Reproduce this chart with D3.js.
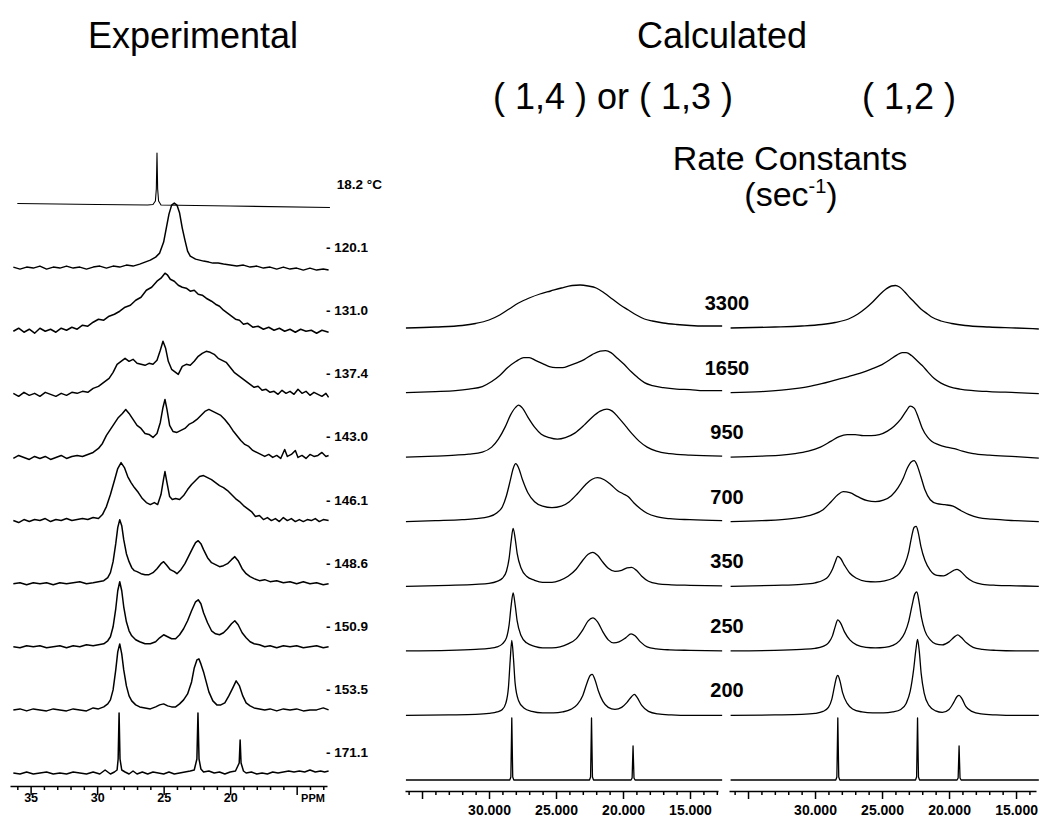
<!DOCTYPE html>
<html>
<head>
<meta charset="utf-8">
<script src="https://cdn.jsdelivr.net/npm/d3@7"></script>
<style>
body{margin:0;background:#fff;}
svg{display:block;}
.trace{fill:none;stroke:#000;stroke-linejoin:round;}
.axis path,.axis line{stroke:#000;stroke-width:1.5;}
.axis text{font-weight:bold;fill:#000;}
</style>
</head>
<body>
<svg id="chart" width="1039" height="817"></svg>
<script>

//****DATA
//temperatures of the experimental spectra, top to bottom
var temps = ["18.2 °C", "- 120.1", "- 131.0", "- 137.4", "- 143.0", "- 146.1", "- 148.6", "- 150.9", "- 153.5", "- 171.1"];

//experimental spectra, [ppm, intensity]
var exp182 = [[36.0,1.5],[30,0.5],[26.2,0],[25.8,0.5],[25.62,4],[25.55,16],[25.5,52],[25.45,16],[25.38,4],[25.2,0],[20,-1],[12.5,-2.5]];
var exp1201 = [[36.3,1],[35.8,-1],[35.3,1],[34.8,0],[34.3,2],[33.8,-1],[33.3,1],[32.8,0],[32.3,2],[31.8,0],[31.3,1],[30.8,-1],[30.3,1],[29.8,2],[29.3,0],[28.8,2],[28.3,1],[27.8,3],[27.3,2],[26.8,4],[26.4,6],[26.0,8],[25.6,11],[25.3,15],[25.0,26],[24.8,40],[24.6,54],[24.4,63],[24.2,65],[24.0,63],[23.8,55],[23.6,40],[23.4,28],[23.2,17],[23.0,12],[22.6,9],[22.3,8],[22.0,7],[21.6,6],[21.3,5],[20.9,5],[20.5,4],[20.0,3],[19.5,2],[19.0,3],[18.5,1],[18.0,2],[17.5,0],[17.0,1],[16.5,-1],[16.0,1],[15.5,-1],[15.0,0],[14.5,-2],[14.0,0],[13.5,-2],[13.0,-1],[12.6,-2]];
var exp1310 = [[36.3,0],[35.9,3],[35.5,-1],[35.1,2],[34.7,-2],[34.3,3],[33.9,0],[33.5,2],[33.1,-1],[32.7,3],[32.3,1],[31.9,4],[31.5,2],[31.1,6],[30.7,5],[30.3,9],[29.9,12],[29.5,11],[29.1,15],[28.7,17],[28.3,20],[27.9,24],[27.5,26],[27.1,31],[26.7,34],[26.3,41],[25.9,44],[25.5,50],[25.2,53],[24.9,58],[24.7,56],[24.5,52],[24.2,50],[23.9,46],[23.6,44],[23.3,43],[23.0,40],[22.7,41],[22.4,37],[22.1,36],[21.8,33],[21.4,30],[21.1,27],[20.8,25],[20.5,21],[20.2,18],[19.9,15],[19.6,12],[19.3,11],[19.0,7],[18.7,8],[18.3,4],[17.9,5],[17.5,2],[17.1,4],[16.7,1],[16.3,3],[15.9,0],[15.5,2],[15.1,-1],[14.7,2],[14.3,0],[13.9,1],[13.5,-2],[13.1,1],[12.6,-1]];
var exp1374 = [[36.3,1],[35.9,-2],[35.5,2],[35.1,-1],[34.7,1],[34.3,-2],[33.9,2],[33.5,0],[33.1,-2],[32.7,1],[32.3,-1],[31.9,2],[31.5,1],[31.1,3],[30.7,2],[30.3,6],[29.9,8],[29.5,12],[29.1,16],[28.8,22],[28.5,30],[28.2,33],[27.9,36],[27.6,33],[27.3,35],[27.0,31],[26.7,30],[26.4,29],[26.1,31],[25.8,30],[25.5,34],[25.25,44],[25.05,53],[24.85,46],[24.65,33],[24.4,25],[24.1,22],[23.9,20],[23.6,28],[23.3,30],[23.0,29],[22.7,33],[22.4,38],[22.1,41],[21.8,43],[21.5,42],[21.2,40],[20.9,36],[20.6,34],[20.3,32],[20.0,27],[19.7,22],[19.4,19],[19.1,16],[18.8,13],[18.5,10],[18.2,7],[17.9,8],[17.6,4],[17.3,5],[17.0,2],[16.7,3],[16.4,0],[16.1,4],[15.8,1],[15.5,3],[15.2,0],[14.9,5],[14.6,1],[14.3,3],[14.0,-1],[13.7,2],[13.4,0],[13.1,-2],[12.8,1],[12.6,-3]];
var exp1430 = [[36.3,-1],[35.9,2],[35.5,0],[35.1,-2],[34.7,1],[34.3,-1],[33.9,1],[33.5,-2],[33.1,0],[32.7,2],[32.3,-1],[31.9,1],[31.5,2],[31.1,1],[30.7,3],[30.3,5],[29.9,9],[29.6,14],[29.3,22],[29.0,28],[28.7,34],[28.4,40],[28.1,44],[27.85,48],[27.6,44],[27.3,38],[27.0,32],[26.7,29],[26.4,24],[26.1,23],[25.8,20],[25.5,24],[25.25,35],[25.05,50],[24.9,58],[24.75,48],[24.55,32],[24.3,26],[24.0,25],[23.7,27],[23.4,29],[23.1,33],[22.8,35],[22.5,38],[22.2,42],[21.9,46],[21.6,48],[21.3,46],[21.0,44],[20.7,42],[20.4,38],[20.1,33],[19.8,27],[19.5,22],[19.2,17],[18.9,13],[18.6,11],[18.3,7],[18.0,5],[17.7,3],[17.4,1],[17.1,3],[16.8,0],[16.5,2],[16.2,-1],[15.9,8],[15.7,1],[15.4,3],[15.1,7],[14.9,0],[14.6,2],[14.3,-1],[14.0,3],[13.7,1],[13.4,2],[13.1,5],[12.8,1],[12.6,2]];
var exp1461 = [[36.3,0],[35.9,-2],[35.5,1],[35.1,-1],[34.7,1],[34.3,0],[33.9,2],[33.5,-1],[33.1,1],[32.7,0],[32.3,2],[31.9,0],[31.5,1],[31.1,2],[30.7,1],[30.3,3],[29.9,2],[29.6,6],[29.3,14],[29.0,26],[28.7,40],[28.45,52],[28.2,58],[27.95,53],[27.7,44],[27.45,38],[27.2,33],[26.9,28],[26.6,22],[26.3,18],[26.0,16],[25.7,18],[25.45,16],[25.2,26],[25.0,42],[24.9,49],[24.75,38],[24.55,24],[24.35,21],[24.1,22],[23.8,21],[23.5,25],[23.2,31],[22.9,36],[22.6,40],[22.3,44],[22.0,45],[21.7,43],[21.4,41],[21.1,38],[20.8,35],[20.5,33],[20.2,30],[19.9,26],[19.6,22],[19.3,19],[19.0,15],[18.7,12],[18.4,9],[18.1,4],[17.8,5],[17.5,1],[17.2,3],[16.9,0],[16.6,2],[16.3,-1],[16.0,3],[15.7,0],[15.4,2],[15.1,-1],[14.8,1],[14.5,-1],[14.2,1],[13.9,0],[13.6,2],[13.3,-1],[13.0,1],[12.6,0]];
var exp1486 = [[36.3,0],[35.8,1],[35.3,-1],[34.8,1],[34.3,0],[33.8,1],[33.3,-1],[32.8,1],[32.3,0],[31.8,1],[31.3,2],[30.8,0],[30.3,1],[29.9,2],[29.5,3],[29.2,6],[29.0,11],[28.8,22],[28.6,40],[28.45,56],[28.3,64],[28.15,58],[28.0,44],[27.8,30],[27.6,22],[27.4,16],[27.2,13],[27.0,12],[26.7,10],[26.4,9],[26.1,9],[25.8,11],[25.5,15],[25.2,20],[25.0,22],[24.8,19],[24.5,14],[24.2,12],[24.0,10],[23.7,14],[23.4,20],[23.1,28],[22.8,36],[22.6,41],[22.4,43],[22.2,40],[22.0,34],[21.7,26],[21.4,21],[21.1,19],[20.8,17],[20.5,18],[20.2,20],[19.9,24],[19.65,27],[19.4,23],[19.1,15],[18.8,10],[18.5,7],[18.2,5],[17.8,3],[17.4,4],[17.0,2],[16.5,3],[16.0,1],[15.5,2],[15.0,0],[14.5,2],[14.0,0],[13.5,1],[13.0,-1],[12.6,0]];
var exp1509 = [[36.3,0],[35.8,-1],[35.3,1],[34.8,0],[34.3,1],[33.8,-1],[33.3,0],[32.8,1],[32.3,-1],[31.8,1],[31.3,0],[30.8,2],[30.3,1],[29.9,2],[29.5,3],[29.2,6],[29.0,10],[28.8,20],[28.6,38],[28.45,56],[28.3,65],[28.15,56],[28.0,40],[27.8,25],[27.6,16],[27.4,11],[27.1,7],[26.8,5],[26.4,3],[26.0,3],[25.6,5],[25.3,9],[25.0,12],[24.7,10],[24.4,8],[24.1,8],[23.8,12],[23.5,18],[23.2,26],[22.9,36],[22.6,45],[22.4,47],[22.2,43],[22.0,34],[21.7,24],[21.4,16],[21.1,13],[20.8,12],[20.5,14],[20.2,18],[19.9,23],[19.65,26],[19.4,22],[19.1,14],[18.8,9],[18.5,5],[18.2,3],[17.8,2],[17.4,0],[17.0,1],[16.5,-1],[16.0,1],[15.5,0],[15.0,1],[14.5,-1],[14.0,0],[13.5,1],[13.0,-1],[12.6,0]];
var exp1535 = [[36.3,0],[35.8,1],[35.3,-1],[34.8,1],[34.3,0],[33.8,-1],[33.3,1],[32.8,0],[32.3,-1],[31.8,1],[31.3,0],[30.8,-1],[30.3,2],[29.9,1],[29.5,3],[29.2,6],[29.0,10],[28.8,20],[28.6,40],[28.45,58],[28.3,66],[28.15,56],[28.0,40],[27.8,24],[27.6,14],[27.4,9],[27.1,5],[26.8,3],[26.4,2],[26.0,1],[25.6,3],[25.3,5],[25.0,6],[24.7,4],[24.4,3],[24.1,3],[23.8,6],[23.5,10],[23.2,16],[22.9,28],[22.7,42],[22.5,50],[22.35,51],[22.2,46],[22.0,38],[21.8,28],[21.6,18],[21.3,9],[21.0,5],[20.7,5],[20.4,7],[20.1,14],[19.8,22],[19.55,29],[19.3,24],[19.05,14],[18.8,7],[18.5,4],[18.2,2],[17.8,1],[17.4,0],[17.0,1],[16.5,-1],[16.0,1],[15.5,0],[15.0,1],[14.5,-1],[14.0,0],[13.5,0],[13.0,2],[12.6,0]];
var exp1711 = [[36.3,0],[35.8,-1],[35.3,1],[34.8,-1],[34.3,0],[33.8,1],[33.3,-1],[32.8,0],[32.3,-1],[31.8,1],[31.3,0],[30.8,-1],[30.3,1],[29.8,-1],[29.4,3],[29.0,-1],[28.7,1],[28.5,3],[28.42,14],[28.35,60],[28.28,14],[28.15,3],[27.9,1],[27.6,-1],[27.3,2],[27.0,-1],[26.6,1],[26.2,-1],[25.8,1],[25.4,0],[25.0,-1],[24.6,1],[24.2,-1],[23.8,0],[23.4,1],[23.0,2],[22.7,3],[22.5,14],[22.42,60],[22.34,14],[22.2,4],[22.0,1],[21.6,2],[21.2,0],[20.8,1],[20.4,-1],[20.0,1],[19.6,2],[19.32,10],[19.25,33],[19.18,10],[19.0,2],[18.8,0],[18.4,1],[18.0,-1],[17.6,0],[17.2,-1],[16.8,1],[16.4,0],[16.0,1],[15.6,2],[15.2,1],[14.8,2],[14.4,1],[14.0,3],[13.6,1],[13.2,2],[12.9,1],[12.6,2]];
var expSpectra = [exp182, exp1201, exp1310, exp1374, exp1430, exp1461, exp1486, exp1509, exp1535, exp1711];

//rate constants (sec-1) of the calculated spectra, top to bottom
var rates = ["3300", "1650", "950", "700", "350", "250", "200"];

//calculated spectra, (1,4) or (1,3) exchange
var c14_3300 = [[36.2,0],[34,1],[32,2.5],[31,4.5],[30,8],[29.2,13],[28.5,19],[27.8,25],[27.0,30],[26.2,34],[25.4,37],[24.6,40],[23.8,42.5],[23.2,43],[22.6,42],[22.0,40],[21.4,35],[20.8,29],[20.2,23],[19.6,18],[19.0,13],[18.4,9],[17.8,7],[17.0,5],[16.0,3.5],[15.0,2.5],[14,2],[12.6,2]];
var c14_1650 = [[36.2,0],[34,1],[32.5,2],[31.5,3.5],[30.5,6],[29.8,11],[29.2,17],[28.6,25],[28.0,31],[27.4,35],[27.0,35],[26.5,32],[26.0,29],[25.5,26],[25.0,25],[24.5,25],[24.0,27],[23.4,30],[22.9,33],[22.3,38],[21.7,41.5],[21.3,42],[20.9,40],[20.4,34],[19.9,28],[19.4,21],[18.9,15],[18.4,10],[17.8,7],[17,5],[16,3.5],[15,3],[14,2],[12.6,2]];
var c14_950 = [[36.2,0],[34,1],[32.5,2],[31.5,3],[30.5,5],[29.8,10],[29.3,18],[28.8,30],[28.4,42],[28.0,50],[27.8,52],[27.5,49],[27.1,40],[26.6,30],[26.1,23],[25.5,19.5],[24.9,18],[24.3,19.5],[23.6,24],[22.9,32],[22.3,40],[21.7,46],[21.2,48],[20.8,46],[20.3,39],[19.8,31],[19.3,23],[18.8,16],[18.2,10],[17.5,6],[16.5,3.5],[15,2],[12.6,1]];
var c14_700 = [[36.2,0],[34,1],[32,2],[31,3],[30,5],[29.4,9],[29.0,15],[28.7,26],[28.4,42],[28.2,53],[28.0,58],[27.8,54],[27.5,42],[27.1,29],[26.6,20],[26.0,15.5],[25.3,14],[24.6,15.5],[24.0,20],[23.4,28],[22.8,37],[22.3,42.5],[21.9,44],[21.4,42],[20.9,37],[20.4,31],[20.0,28],[19.6,25],[19.2,19],[18.7,13],[18.2,8.5],[17.5,5],[16.5,3],[15,2],[12.6,1]];
var c14_350 = [[36.2,0],[33,1],[31,2],[30,3],[29.4,5],[29.0,8],[28.7,15],[28.5,28],[28.35,45],[28.2,58],[28.05,48],[27.9,33],[27.6,18],[27.2,10],[26.6,6],[26.0,4],[25.3,4],[24.7,6],[24.1,10],[23.5,17],[23.0,26],[22.6,32],[22.25,34],[21.9,31],[21.5,24],[21.1,18],[20.6,15],[20.1,16],[19.7,18.5],[19.35,19],[19.0,16],[18.6,10],[18.1,5],[17.4,2.5],[16.4,1.5],[15,1],[12.6,0.5]];
var c14_250 = [[36.2,0],[33,0.5],[31,1.5],[30,2.5],[29.4,4],[29.0,7],[28.7,13],[28.5,26],[28.35,45],[28.2,58],[28.05,46],[27.9,30],[27.6,15],[27.2,8],[26.6,4.5],[26.0,3],[25.3,3],[24.7,4],[24.1,7],[23.5,12],[23.0,21],[22.6,30],[22.25,33],[21.9,29],[21.5,19],[21.1,11],[20.7,8],[20.3,9],[19.8,13],[19.4,17],[19.1,15],[18.7,9],[18.2,4],[17.5,2],[16.5,1],[15,0.5],[12.6,0]];
var c14_200 = [[36.2,0],[33,0.5],[31,1],[30,2],[29.4,3.5],[29.0,6],[28.75,12],[28.55,28],[28.42,55],[28.3,75],[28.18,58],[28.05,32],[27.8,15],[27.4,7.5],[26.8,4],[26.0,2.5],[25.2,2.5],[24.5,3.5],[23.9,6],[23.4,11],[23.0,20],[22.7,32],[22.45,40],[22.3,41],[22.1,36],[21.85,25],[21.5,14],[21.1,8],[20.6,6],[20.1,8],[19.7,13],[19.35,19],[19.15,21],[18.95,18],[18.6,10],[18.1,4],[17.4,1.5],[16.4,0.5],[15,0],[12.6,0]];
var calc14 = [c14_3300, c14_1650, c14_950, c14_700, c14_350, c14_250, c14_200];

//calculated spectra, (1,2) exchange
var c12_3300 = [[36.3,0],[33,1],[31,2],[29.5,3.5],[28.5,5.5],[27.5,9],[26.8,14],[26.2,20],[25.7,26],[25.2,33],[24.7,39],[24.3,42],[24.0,42.5],[23.7,41],[23.3,36],[22.9,30],[22.6,26],[22.1,19],[21.6,14],[21.3,11],[20.6,7],[19.8,4.5],[18.8,2.5],[17,1],[15,0],[13.3,-1]];
var c12_1650 = [[36.3,0],[34,1],[32.5,2.5],[31.5,4],[30.5,6],[29.5,9],[28.5,12.5],[27.5,16],[26.5,20],[25.8,23.5],[25.0,28],[24.4,33],[23.9,37.5],[23.5,40],[23.2,40],[22.8,37],[22.4,32],[22.0,27],[21.6,21],[21.1,14],[20.6,9.5],[20.0,6],[19.2,3.5],[18.2,2],[17,1],[15,0],[13.3,-1]];
var c12_950 = [[36.3,0],[34,1],[32.5,2],[31.5,3.5],[30.5,6],[29.6,10],[28.8,16],[28.2,20.5],[27.6,22.5],[27.0,22.5],[26.4,21.5],[25.8,21.5],[25.2,22.5],[24.6,26],[24.1,31],[23.6,38],[23.2,46],[22.9,51],[22.6,49],[22.3,40],[22.0,29],[21.6,20],[21.3,16],[20.8,12.5],[20.2,10],[19.6,8.5],[19.0,6],[18.2,3.5],[17,2],[15,0.5],[13.3,-1]];
var c12_700 = [[36.3,0],[34,1],[32.5,2],[31.2,4],[30.2,7],[29.4,12],[28.8,20],[28.3,27],[27.9,30],[27.4,29],[26.8,25],[26.1,21],[25.5,20],[24.9,21.5],[24.3,26],[23.8,34],[23.4,44],[23.1,54],[22.8,60],[22.6,61],[22.4,57],[22.1,45],[21.8,32],[21.4,22],[20.9,18],[20.3,17],[19.7,15.5],[19.1,11],[18.5,7],[17.8,4],[16.8,2.5],[15,1],[13.3,0]];
var c12_350 = [[36.3,0],[33,1],[31,2],[30,3.5],[29.4,6],[29.0,10],[28.7,17],[28.5,24],[28.3,30],[28.1,28],[27.8,21],[27.4,13],[26.9,8],[26.2,5],[25.5,4.5],[24.8,5.5],[24.2,8],[23.7,13],[23.3,22],[23.0,35],[22.8,49],[22.6,59],[22.45,60],[22.3,54],[22.1,40],[21.8,26],[21.4,16],[20.9,11],[20.4,10.5],[20.0,13],[19.65,16],[19.4,17],[19.1,14.5],[18.7,9],[18.2,4.5],[17.5,2],[16.5,1],[15,0.5],[13.3,0]];
var c12_250 = [[36.3,0],[33,0.5],[31,1.5],[30,2.5],[29.4,4.5],[29.0,8],[28.7,15],[28.5,24],[28.3,31],[28.1,28],[27.8,19],[27.4,11],[26.9,6],[26.2,3.5],[25.5,3],[24.8,3.5],[24.2,5.5],[23.7,10],[23.3,18],[23.0,30],[22.75,46],[22.55,57],[22.4,59],[22.25,50],[22.05,33],[21.8,20],[21.4,11],[21.0,7],[20.5,6],[20.0,9],[19.6,14],[19.35,16],[19.1,13.5],[18.7,8],[18.2,3.5],[17.5,1.5],[16.5,0.5],[15,0],[13.3,0]];
var c12_200 = [[36.3,0],[33,0.5],[31,1],[30,2],[29.4,4],[29.0,8],[28.75,16],[28.55,29],[28.4,38],[28.3,40],[28.15,35],[27.95,23],[27.6,12],[27.2,6.5],[26.5,3.5],[25.7,2.5],[24.9,2.5],[24.2,3.5],[23.6,6],[23.2,12],[22.9,24],[22.65,45],[22.47,66],[22.35,76],[22.22,64],[22.08,42],[21.85,22],[21.5,10],[21.0,4.5],[20.5,3],[20.0,6],[19.65,13],[19.4,19],[19.25,20],[19.05,17],[18.75,9],[18.3,4],[17.6,1.5],[16.5,0.5],[15,0],[13.3,0]];
var calc12 = [c12_3300, c12_1650, c12_950, c12_700, c12_350, c12_250, c12_200];

//static (no exchange) lines under both calculated columns
var static14 = [[36.2,0],[30,0],[28.45,0],[28.37,3],[28.3,62],[28.23,3],[28.15,0],[22.5,0],[22.42,3],[22.35,62],[22.28,3],[22.2,0],[19.4,0],[19.32,2],[19.25,34],[19.18,2],[19.1,0],[12.6,0]];
var static12 = [[36.3,0],[30,0],[28.45,0],[28.37,3],[28.3,62],[28.23,3],[28.15,0],[22.5,0],[22.42,3],[22.35,62],[22.28,3],[22.2,0],[19.4,0],[19.32,2],[19.25,34],[19.18,2],[19.1,0],[13.3,0]];

//tick labels
var expTickValues = [35, 30, 25, 20];
var expTickLabels = ["35", "30", "25", "20"];
var calcTickValues = [30, 25, 20, 15];
var calcTickLabels = ["30.000", "25.000", "20.000", "15.000"];


//****SCALES
var svg = d3.select("#chart"),
	font = '"Liberation Sans", Arial, Helvetica, sans-serif';

var xExp = d3.scaleLinear().domain([36.55, 12.72]).range([10, 327]);
var xCalc = [
	d3.scaleLinear().domain([36.27, 12.91]).range([405, 718]),
	d3.scaleLinear().domain([36.42, 13.51]).range([729, 1036])
];
var yExp = d3.scalePoint().domain(temps).range([205, 773]);
var yCalc = d3.scalePoint().domain(rates.concat(["static"])).range([328, 780]);
var amp = d3.scaleLinear().domain([0, 100]).range([0, 100]);

//line generator for one spectrum sitting on baseline "row"
function lineGen(x, row, curve) {
	return d3.line()
		.x(function(d) { return x(d[0]); })
		.y(function(d) { return row - amp(d[1]); })
		.curve(curve);
}


//****DRAW
//experimental spectra
svg.append("g").selectAll("path")
	.data(expSpectra)
	.enter().append("path")
	.attr("class", "trace")
	.attr("stroke-width", function(d, i) { return i == 0 ? 1.1 : 1.5; })
	.attr("d", function(d, i) { return lineGen(xExp, yExp(temps[i]), d3.curveLinear)(d); });

svg.append("g").selectAll("text")
	.data(temps)
	.enter().append("text")
	.attr("x", function(d, i) { return i == 0 ? 382 : 368; })
	.attr("y", function(d) { return yExp(d) - 16; })
	.attr("text-anchor", "end")
	.attr("font-family", font).attr("font-weight", "bold").attr("font-size", 13.5)
	.text(function(d) { return d; });

//calculated spectra, two columns
[calc14, calc12].forEach(function(col, c) {
	svg.append("g").selectAll("path")
		.data(col)
		.enter().append("path")
		.attr("class", "trace")
		.attr("stroke-width", 1.3)
		.attr("d", function(d, i) { return lineGen(xCalc[c], yCalc(rates[i]), d3.curveMonotoneX)(d); });
});
svg.append("path").attr("class", "trace").attr("stroke-width", 1.3)
	.attr("d", lineGen(xCalc[0], yCalc("static"), d3.curveLinear)(static14));
svg.append("path").attr("class", "trace").attr("stroke-width", 1.3)
	.attr("d", lineGen(xCalc[1], yCalc("static"), d3.curveLinear)(static12));

//rate constant labels in the gap between the columns
svg.append("g").selectAll("text")
	.data(rates)
	.enter().append("text")
	.attr("x", 727)
	.attr("y", function(d) { return yCalc(d) - 18; })
	.attr("text-anchor", "middle")
	.attr("font-family", font).attr("font-weight", "bold").attr("font-size", 20)
	.text(function(d) { return d; });

//axes
function labelFor(values, labels) {
	return function(d) { var i = values.indexOf(d); return i < 0 ? "" : labels[i]; };
}

var axExp = d3.axisBottom(xExp)
	.tickValues(d3.range(13, 37))
	.tickSizeInner(4).tickSizeOuter(0).tickPadding(3)
	.tickFormat(labelFor(expTickValues, expTickLabels));
var gExp = svg.append("g")
	.attr("class", "axis")
	.attr("transform", "translate(0,786)")
	.call(axExp)
	.attr("font-family", font).attr("font-size", 12.5);
gExp.selectAll(".tick line").filter(function(d) { return d % 5 == 0; }).attr("y2", 9);
gExp.append("text")
	.attr("x", 313).attr("y", 16)
	.attr("text-anchor", "middle").attr("font-size", 11)
	.text("PPM");

[[13, 37], [14, 37]].forEach(function(r, c) {
	var ax = d3.axisBottom(xCalc[c])
		.tickValues(d3.range(r[0], r[1]))
		.tickSizeInner(4).tickSizeOuter(0).tickPadding(10)
		.tickFormat(labelFor(calcTickValues, calcTickLabels));
	var g = svg.append("g")
		.attr("class", "axis")
		.attr("transform", "translate(0,791)")
		.call(ax)
		.attr("font-family", font).attr("font-size", 14);
	g.selectAll(".tick line").filter(function(d) { return d % 5 == 0; }).attr("y2", 8);
});

//titles
function title(txt, x, y, anchor, size) {
	return svg.append("text")
		.attr("x", x).attr("y", y)
		.attr("text-anchor", anchor || "middle")
		.attr("font-family", font).attr("font-size", size || 36)
		.text(txt);
}
title("Experimental", 193, 48);
title("Calculated", 722, 48);
title("( 1,4 ) or ( 1,3 )", 493, 109, "start");
title("( 1,2 )", 862, 109, "start");
title("Rate Constants", 790, 170, "middle", 34);
var sec = title("(sec", 791, 206, "middle", 34);
sec.append("tspan").attr("dy", -13).attr("font-size", 20).text("-1");
sec.append("tspan").attr("dy", 13).text(")");

</script>
</body>
</html>
